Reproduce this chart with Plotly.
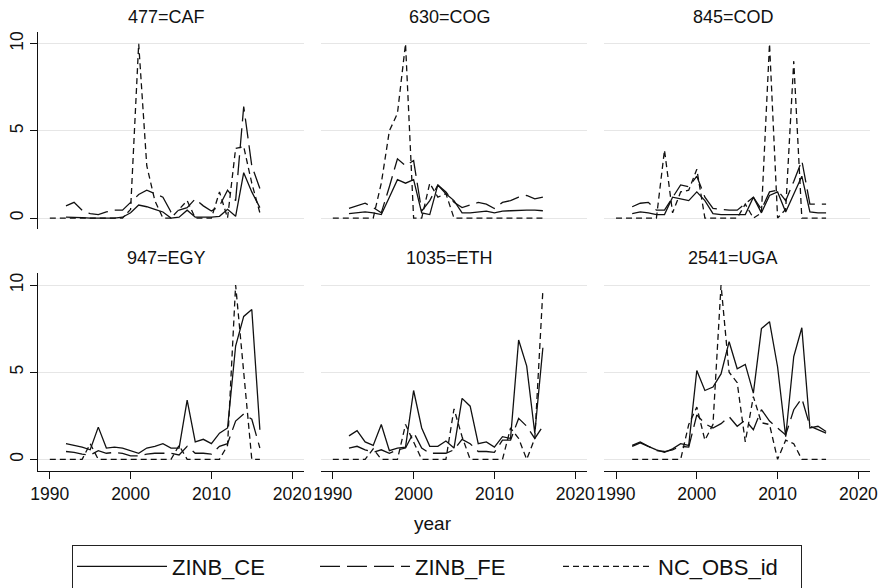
import plotly.graph_objects as go

# ---------------- data ----------------
years_model = list(range(1992, 2017))
years_obs = list(range(1990, 2017))
x_ticks = [1990, 2000, 2010, 2020]
y_ticks = [0, 5, 10]
panel_titles = ["477=CAF", "630=COG", "845=COD", "947=EGY", "1035=ETH", "2541=UGA"]
series_names = ["ZINB_CE", "ZINB_FE", "NC_OBS_id"]

caf_ce = [0.05, 0.05, 0.02, 0.0, 0.0, 0.0, 0.0, 0.05, 0.3, 0.75, 0.65, 0.5, 0.35, 0.0, 0.05,
          0.45, 0.05, 0.05, 0.05, 0.1, 0.5, 0.1, 2.6, 1.5, 0.6]
caf_fe = [0.7, 0.9, 0.45, 0.25, 0.2, 0.35, 0.45, 0.45, 0.9, 1.35, 1.6, 1.4, 1.2, 0.35, 0.45,
          0.6, 1.1, 0.7, 0.4, 0.7, 1.6, 1.0, 6.4, 3.0, 1.7]
caf_obs = [0, 0, 0, 0, 0, 0, 0, 0, 0, 0, 0.5, 10, 3.0, 1.0, 0, 0, 0.5, 1.0, 0, 0, 0, 1.5, 0,
           4.0, 4.1, 2.0, 0.3]

cog_ce = [0.25, 0.3, 0.35, 0.3, 0.2, 1.2, 2.2, 2.0, 2.2, 0.3, 0.2, 1.9, 1.4, 1.0, 0.3, 0.3,
          0.35, 0.4, 0.3, 0.4, 0.42, 0.45, 0.45, 0.45, 0.42]
cog_fe = [0.55, 0.7, 0.85, 0.6, 0.3, 1.8, 3.4, 3.0, 3.3, 0.4, 1.0, 1.9, 1.5, 0.9, 0.6, 0.75,
          0.9, 0.8, 0.55, 0.9, 1.0, 1.2, 1.3, 1.1, 1.2]
cog_obs = [0, 0, 0, 0, 0, 0, 2.0, 5.0, 6.0, 10, 0, 0, 2.0, 1.2, 1.4, 0, 0, 0, 0, 0, 0, 0, 0,
           0, 0, 0, 0]

cod_ce = [0.25, 0.35, 0.3, 0.2, 0.2, 1.2, 1.1, 1.0, 1.5, 1.0, 0.25, 0.2, 0.2, 0.2, 0.2, 1.2,
          0.3, 1.3, 1.5, 0.35, 1.4, 2.4, 0.35, 0.3, 0.3]
cod_fe = [0.65, 0.85, 0.9, 0.45, 0.45, 1.2, 1.9, 1.8, 2.4, 1.2, 0.55, 0.5, 0.45, 0.45, 0.8,
          1.2, 0.5, 1.5, 1.6, 1.0, 2.1, 3.3, 0.8, 0.8, 0.8]
cod_obs = [0, 0, 0, 0, 0, 0, 3.9, 0.3, 1.5, 1.6, 2.8, 0, 0, 0, 0, 0, 0.8, 0, 0.3, 10, 0, 0.5,
           9.0, 0, 0, 0, 0]

egy_ce = [0.9, 0.8, 0.7, 0.55, 1.85, 0.65, 0.7, 0.65, 0.5, 0.35, 0.65, 0.75, 0.9, 0.65, 0.65,
          3.4, 1.0, 1.15, 0.9, 1.5, 1.8, 6.5, 8.2, 8.6, 1.7]
egy_fe = [0.45, 0.4, 0.3, 0.25, 0.5, 0.35, 0.4, 0.35, 0.2, 0.2, 0.3, 0.35, 0.35, 0.35, 0.25,
          0.75, 0.35, 0.35, 0.3, 0.75, 0.9, 2.2, 2.6, 2.3, 0.65]
egy_obs = [0, 0, 0, 0, 0, 0.9, 0, 0, 0, 0, 0, 0, 0, 0, 0, 0, 0.8, 0, 0, 0, 0, 0, 0.8, 10, 5.0,
           0, 0]

eth_ce = [1.35, 1.65, 1.0, 0.8, 2.0, 0.5, 0.65, 0.7, 3.95, 1.8, 0.75, 0.75, 1.05, 0.65, 3.5,
          3.05, 0.9, 1.0, 0.7, 1.3, 1.2, 6.85, 5.35, 1.5, 6.4]
eth_fe = [0.65, 0.75, 0.55, 0.4, 0.55, 0.35, 0.55, 0.65, 1.55, 0.65, 0.35, 0.35, 0.35, 0.55,
          1.15, 0.9, 0.45, 0.45, 0.4, 1.1, 1.1, 2.35, 1.9, 1.2, 1.9]
eth_obs = [0, 0, 0, 0, 0, 0.6, 0, 0, 0, 2.0, 1.0, 0, 0, 0, 0, 2.9, 1.3, 0, 0, 0, 0, 0, 1.8,
           1.2, 0, 1.2, 9.7]

uga_ce = [0.8, 1.0, 0.75, 0.55, 0.4, 0.6, 0.9, 0.8, 5.1, 3.95, 4.15, 4.9, 6.75, 5.2, 5.45,
          3.8, 7.5, 7.9, 5.3, 1.3, 5.9, 7.55, 1.8, 1.9, 1.6]
uga_fe = [0.75, 0.95, 0.75, 0.5, 0.45, 0.55, 0.75, 0.7, 2.55, 2.05, 1.8, 2.05, 2.45, 1.9,
          2.25, 1.7, 2.85, 2.2, 1.8, 1.4, 2.85, 3.5, 1.9, 1.7, 1.5]
uga_obs = [None, None, 0, 0, 0, 0, 0, 0, 0, 2.0, 3.0, 1.1, 2.0, 10, 5.0, 4.4, 1.0, 3.6, 2.1,
           2.0, 0, 1.1, 0.9, 0, 0, 0, 0]

panels = [
    (caf_ce, caf_fe, caf_obs),
    (cog_ce, cog_fe, cog_obs),
    (cod_ce, cod_fe, cod_obs),
    (egy_ce, egy_fe, egy_obs),
    (eth_ce, eth_fe, eth_obs),
    (uga_ce, uga_fe, uga_obs),
]

# ---------------- styling / layout ----------------
W, H = 883, 588
LINE_COLOR = "#111111"
dashes = ["solid", "20px,7px", "6px,4px"]
FONT = "Liberation Sans"

col_x0 = [37.7, 320.7, 603.9]
panel_w = 266.2
row_y = [(31.7, 229.4), (273.0, 470.7)]

fig = go.Figure()
layout_axes = {}
annotations = []

for i, (ce, fe, obs) in enumerate(panels):
    row, col = divmod(i, 3)
    n = i + 1
    xa = "x" if n == 1 else f"x{n}"
    ya = "y" if n == 1 else f"y{n}"
    for s, (name, xs, ys) in enumerate(zip(series_names,
                                           [years_model, years_model, years_obs],
                                           [ce, fe, obs])):
        fig.add_trace(go.Scatter(
            x=xs, y=ys, mode="lines", name=name, legendgroup=name,
            showlegend=(i == 0), xaxis=xa, yaxis=ya,
            line=dict(color=LINE_COLOR, width=1.3, dash=dashes[s]),
            connectgaps=False, hoverinfo="skip"))

    x0 = col_x0[col]
    xdom = [x0 / W, (x0 + panel_w) / W]
    ytop, ybot = row_y[row]
    ydom = [1 - ybot / H, 1 - ytop / H]
    xkey = "xaxis" if n == 1 else f"xaxis{n}"
    ykey = "yaxis" if n == 1 else f"yaxis{n}"
    bottom = row == 1
    left = col == 0
    layout_axes[xkey] = dict(
        domain=xdom, anchor=ya, range=[1988.5, 2021.45],
        showgrid=False, zeroline=False,
        showline=bottom, linecolor="#111", linewidth=1.2,
        ticks="outside" if bottom else "", ticklen=7, tickcolor="#111", tickwidth=1.2,
        tickvals=x_ticks, showticklabels=bottom,
        tickfont=dict(family=FONT, size=17.5, color="#111"),
    )
    layout_axes[ykey] = dict(
        domain=ydom, anchor=xa, range=[-0.65, 10.69],
        showgrid=True, gridcolor="#e6e6e6", gridwidth=1.2, zeroline=False,
        showline=left, linecolor="#111", linewidth=1.2,
        ticks="outside" if left else "", ticklen=7, tickcolor="#111", tickwidth=1.2,
        tickvals=y_ticks, showticklabels=left, tickangle=-90,
        tickfont=dict(family=FONT, size=17.5, color="#111"),
    )
    annotations.append(dict(
        text=panel_titles[i], xref="paper", yref="paper",
        x=(x0 + panel_w / 2 - 4) / W, y=1 - (17 if row == 0 else 258) / H,
        xanchor="center", yanchor="middle", showarrow=False,
        font=dict(family=FONT, size=18, color="#111")))

annotations.append(dict(
    text="year", xref="paper", yref="paper", x=433 / W, y=1 - 523 / H,
    xanchor="center", yanchor="middle", showarrow=False,
    font=dict(family=FONT, size=19, color="#111")))

fig.update_layout(
    width=W, height=H,
    margin=dict(l=0, r=0, t=0, b=0, autoexpand=False),
    paper_bgcolor="white", plot_bgcolor="white",
    annotations=annotations,
    legend=dict(
        orientation="h", x=437 / W, xanchor="center", y=1 - 544.5 / H, yanchor="top",
        bordercolor="#222", borderwidth=1, bgcolor="white",
        font=dict(family=FONT, size=22, color="#111"),
        itemwidth=90, entrywidth=138, entrywidthmode="pixels",
    ),
    **layout_axes,
)

fig.write_html("out.html", config={"displayModeBar": False},
               post_script="document.body.style.margin='0px';")
